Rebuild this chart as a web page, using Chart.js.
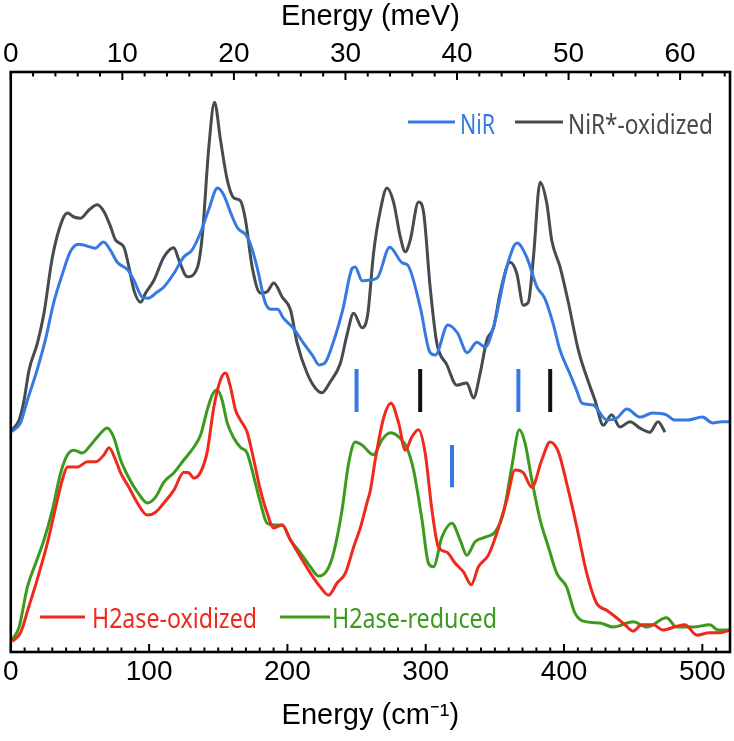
<!DOCTYPE html>
<html>
<head>
<meta charset="utf-8">
<script src="https://cdn.jsdelivr.net/npm/chart.js@4.4.1/dist/chart.umd.min.js"></script>
<style>
  html, body { margin: 0; padding: 0; background: #fff; }
  #wrap { width: 734px; height: 741px; }
</style>
</head>
<body>
<div id="wrap"><canvas id="spectraChart"></canvas></div>
<script>
// energy in cm-1, intensity in arbitrary units (spectra stacked with an offset)
const nirX = [1, 7, 12, 19, 25, 31, 37.5, 43, 49, 58, 61, 67, 72, 77, 84.5, 89, 95, 99, 106, 110.5,
  118, 125, 131, 137, 143, 149.5, 154, 159, 164, 170, 173, 178, 184, 188, 193, 197, 204, 211.5, 218, 223,
  227, 233, 240, 247, 249, 254, 258.5, 265, 274, 283, 287, 296, 303, 307, 316, 323, 330, 337, 343, 349,
  359, 366, 373, 380.5, 386, 392, 397, 404, 409, 413, 421, 431, 438, 445.5, 455, 464, 474, 480, 489.5, 500,
  507.5, 514, 520];
const nirY = [38.0, 39.5, 43.4, 48.6, 53.8, 60.2, 65.3, 69.0, 70.3, 69.8, 69.6, 70.7, 69.3, 67.2, 65.9, 64.1, 61.2, 61.0, 62.1, 62.9,
  65.3, 68.1, 69.3, 72.2, 76.2, 80.0, 78.8, 75.7, 73.1, 71.9, 70.5, 66.4, 60.2, 59.1, 59.1, 57.6, 55.9, 53.3, 51.2, 49.5,
  49.8, 53.3, 59.0, 66.2, 66.4, 64.0, 64.1, 64.5, 69.8, 67.1, 66.7, 59.5, 51.7, 51.2, 56.4, 55.0, 51.6, 53.4, 52.6, 56.0,
  66.7, 70.5, 68.1, 62.9, 61.0, 56.7, 52.1, 48.1, 45.2, 42.9, 42.6, 40.0, 40.3, 41.9, 40.5, 41.2, 40.9, 40.0, 40.0, 40.5,
  39.5, 39.7, 39.7];

const nirOxX = [1, 6, 9.6, 13.2, 19.3, 24, 30.1, 37.3, 41, 45.7, 50.5, 56.5, 62.6, 67.4, 72.2, 75.8, 81.8, 85.4, 89, 93.9,
  97.5, 103.5, 110.7, 117.9, 121.5, 127.6, 134.8, 138.4, 143.2, 147.3, 151.6, 156.5, 161.2, 166, 169.7, 174.5, 180.5, 185.3, 190.1, 196.2,
  202.2, 207, 214.2, 220.2, 225, 231, 238.3, 243.1, 247.9, 254, 258, 262.3, 267, 272, 276.7, 281.6, 285.2, 288.8, 294.8, 298.4,
  303.2, 308, 315.3, 322.5, 329.7, 334.5, 339.4, 344.2, 349, 353.8, 361, 365.8, 370.6, 374.2, 377.9, 382.7, 387.5, 391.1, 397.1, 403.1,
  410.3, 416.4, 422.4, 428.4, 434.4, 440.4, 447.7, 454.9, 462, 468, 473];
const nirOxY = [38.3, 40.0, 43.4, 48.6, 53.3, 58.4, 68.1, 74.5, 75.7, 75.0, 74.8, 76.2, 77.1, 75.9, 73.3, 71.0, 69.8, 66.4, 62.4, 60.3,
  61.9, 64.1, 68.1, 69.7, 67.6, 64.7, 66.2, 71.6, 87.1, 94.8, 88.3, 81.4, 78.3, 77.8, 74.5, 66.4, 61.9, 62.1, 63.6, 61.2,
  59.0, 53.3, 48.1, 45.5, 44.7, 46.6, 49.8, 54.7, 58.4, 55.9, 58.1, 68.8, 75.9, 80.0, 77.6, 71.6, 69.0, 71.0, 77.6, 75.9,
  62.9, 53.3, 49.5, 46.0, 46.4, 43.8, 48.1, 53.8, 55.9, 61.9, 67.2, 65.3, 59.8, 60.3, 68.1, 81.0, 77.4, 71.0, 66.4, 60.3,
  52.1, 47.4, 43.4, 39.1, 40.9, 38.8, 39.7, 38.6, 37.9, 39.7, 37.9];

const h2oxX = [1, 7, 13, 19, 26.5, 32.5, 37.3, 41, 48.2, 55.4, 61.4, 67.4, 71, 75.8, 79.4, 85.4, 91.5, 98.7, 104.7, 110.7,
  117.9, 125.1, 128.7, 132.3, 137.2, 142, 146.8, 151.6, 155.2, 158.8, 162.5, 166, 170.9, 175.7, 180.5, 185.3, 190.1, 196.2, 202.2, 209.4,
  216.6, 223.8, 229.8, 235.9, 241.9, 247.9, 252.7, 257.5, 260, 263.5, 269.5, 274.9, 280.4, 285.2, 290, 294.8, 299.6, 304.5, 309.2, 315.3,
  321.3, 327.3, 332.9, 338.1, 345.3, 351.4, 358.6, 364.6, 370.6, 376.7, 383.9, 389.9, 395.9, 401.9, 409.2, 416.4, 423.6, 430.8, 438, 444,
  450, 456, 464.5, 471.5, 481, 487.4, 496, 505, 512.6, 520];
const h2oxY = [1.8, 3.3, 7.8, 12.4, 18.8, 25.0, 29.7, 31.9, 31.9, 32.8, 32.8, 34.0, 35.2, 33.1, 30.9, 28.4, 25.7, 23.6, 24.1, 25.7,
  27.9, 31.0, 30.9, 30.0, 31.0, 34.5, 42.2, 46.9, 48.1, 45.7, 41.7, 40.0, 37.9, 33.1, 27.9, 24.0, 21.4, 21.9, 19.3, 16.4,
  13.6, 11.2, 9.8, 11.9, 13.6, 18.1, 21.4, 25.7, 27.9, 33.1, 40.3, 42.9, 39.5, 34.8, 37.1, 38.3, 34.3, 24.5, 18.1, 17.2,
  15.3, 13.8, 11.6, 14.7, 16.7, 20.5, 26.2, 31.4, 30.9, 28.4, 33.1, 36.2, 34.5, 29.1, 21.6, 13.6, 8.4, 7.2, 5.9, 4.7,
  3.6, 4.7, 4.7, 3.8, 4.4, 4.7, 2.9, 3.3, 3.3, 3.8];

const h2redX = [1, 6, 12, 18, 24, 30.1, 36.1, 41, 45.7, 51.8, 57.8, 63.8, 69.8, 74.6, 79.4, 85.4, 91.5, 98.7, 104.7, 110.7,
  117.9, 125.1, 132.3, 137.2, 142, 145.6, 149.3, 152.8, 156.5, 161.2, 166, 170.9, 175.7, 180.5, 185.3, 191.3, 196.2, 202.2, 209.4, 216.6,
  222.6, 228.7, 233.4, 239.5, 244.3, 249.1, 253.9, 262.3, 268.4, 274.4, 280.4, 286.4, 291.2, 297.3, 302, 305.6, 311.7, 318.9, 324.9, 329.7,
  335.7, 343, 350.2, 356.2, 362.2, 367.7, 371.8, 376.7, 382.7, 388.7, 394.7, 401.9, 407.9, 416.4, 426, 435.6, 450, 459.7, 474.1, 481.4,
  493.4, 505.4, 511.4, 520];
const h2redY = [2.1, 4.3, 11.2, 15.3, 19.3, 24.5, 30.9, 34.0, 34.8, 34.3, 35.7, 37.4, 38.6, 36.9, 33.1, 30.0, 27.6, 25.7, 26.7, 29.3,
  30.9, 33.1, 35.3, 37.4, 41.7, 44.3, 45.2, 43.4, 39.5, 36.9, 35.3, 34.3, 30.2, 25.7, 22.2, 21.9, 21.9, 19.3, 17.1, 14.7,
  13.1, 14.1, 17.1, 24.5, 32.6, 36.2, 35.7, 34.0, 36.6, 37.8, 37.1, 35.2, 31.4, 22.8, 15.3, 14.7, 19.8, 22.2, 19.3, 16.7,
  19.0, 19.8, 20.7, 24.0, 31.9, 38.3, 36.0, 29.7, 22.8, 18.1, 13.6, 11.2, 6.7, 5.2, 5.0, 4.3, 5.2, 4.3, 5.9, 4.3,
  4.3, 4.7, 3.8, 3.8];

// short vertical markers (position in cm-1, top and bottom in a.u.)
const markerX = [250, 296, 367, 390, 319];
const markerTop = [48.8, 48.8, 48.8, 48.8, 35.7];
const markerBottom = [41.4, 41.4, 41.4, 41.4, 28.4];
const markerKind = ['NiR', 'NiR*-oxidized', 'NiR', 'NiR*-oxidized', 'NiR'];

const cmMax = 520;
const cmPerMeV = 8.0655;
const cmTicks = { major: 100, minor: 10 };
const meVTicks = { major: 10, minor: 2 };

const colors = {
  'NiR': '#3679e3',
  'NiR*-oxidized': '#464b4f',
  'H2ase-oxidized': '#ef2a1d',
  'H2ase-reduced': '#3c9a1d'
};
const markerColors = { 'NiR': '#3679e3', 'NiR*-oxidized': '#111111' };

const toPoints = (xs, ys) => xs.map((x, i) => ({ x: x, y: ys[i] }));

function spectrum(label, xs, ys) {
  return {
    label: label,
    data: toPoints(xs, ys),
    borderColor: colors[label],
    backgroundColor: colors[label],
    borderWidth: 3,
    pointRadius: 0,
    fill: false,
    cubicInterpolationMode: 'monotone',
    borderJoinStyle: 'round'
  };
}

const markerSets = markerX.map((x, i) => ({
  label: 'marker',
  data: [{ x: x, y: markerTop[i] }, { x: x, y: markerBottom[i] }],
  borderColor: markerColors[markerKind[i]],
  borderWidth: 4,
  pointRadius: 0,
  tension: 0,
  borderCapStyle: 'butt'
}));

// legend boxes placed as in the figure
const legendItems = [
  { label: 'NiR', x1: 408, x2: 455, ly: 122, tx: 460, tw: 35, base: 134 },
  { label: 'NiR*-oxidized', x1: 515, x2: 563, ly: 122, tx: 568, tw: 145, base: 134 },
  { label: 'H2ase-oxidized', x1: 40, x2: 85, ly: 617, tx: 92, tw: 165, base: 628 },
  { label: 'H2ase-reduced', x1: 280, x2: 330, ly: 617, tx: 332, tw: 165, base: 628 }
];

const framePlugin = {
  id: 'frame',
  afterDraw(chart) {
    const { ctx, chartArea: a, scales } = chart;
    ctx.save();
    ctx.strokeStyle = '#000';
    ctx.lineWidth = 2;
    ctx.beginPath();
    for (let v = 0; v <= cmMax; v += cmTicks.minor) {
      const px = scales.x.getPixelForValue(v);
      const len = v % cmTicks.major === 0 ? 8 : 4.5;
      ctx.moveTo(px, a.bottom);
      ctx.lineTo(px, a.bottom - len);
    }
    for (let m = 0; m <= cmMax / cmPerMeV; m += meVTicks.minor) {
      const px = scales.x2.getPixelForValue(m);
      const len = m % meVTicks.major === 0 ? 8 : 4.5;
      ctx.moveTo(px, a.top);
      ctx.lineTo(px, a.top + len);
    }
    ctx.stroke();
    ctx.lineWidth = 2.6;
    ctx.strokeRect(a.left, a.top, a.right - a.left, a.bottom - a.top);

    ctx.font = '28px "Noto Sans"';
    ctx.textBaseline = 'alphabetic';
    legendItems.forEach(it => {
      const c = colors[it.label];
      ctx.strokeStyle = c;
      ctx.lineWidth = 3;
      ctx.beginPath();
      ctx.moveTo(it.x1, it.ly);
      ctx.lineTo(it.x2, it.ly);
      ctx.stroke();
      const w = ctx.measureText(it.label).width;
      ctx.save();
      ctx.translate(it.tx, it.base);
      ctx.scale(it.tw / w, 1);
      ctx.fillStyle = c;
      ctx.fillText(it.label, 0, 0);
      ctx.restore();
    });
    ctx.restore();
  }
};

const axisFont = { family: '"Liberation Sans", Arial, sans-serif', size: 28 };
const titleFont = { family: '"Liberation Sans", Arial, sans-serif', size: 29 };

new Chart(document.getElementById('spectraChart'), {
  type: 'line',
  data: {
    datasets: [
      spectrum('NiR', nirX, nirY),
      spectrum('NiR*-oxidized', nirOxX, nirOxY),
      spectrum('H2ase-oxidized', h2oxX, h2oxY),
      spectrum('H2ase-reduced', h2redX, h2redY)
    ].concat(markerSets)
  },
  options: {
    responsive: true,
    maintainAspectRatio: false,
    animation: false,
    layout: { padding: { left: 10, right: 4, top: 0, bottom: 0 } },
    plugins: {
      legend: { display: false },
      tooltip: { enabled: false }
    },
    scales: {
      x: {
        type: 'linear',
        position: 'bottom',
        min: 0,
        max: cmMax,
        afterFit(scale) { scale.height = 89; },
        grid: { display: false, drawTicks: false },
        border: { display: false },
        ticks: {
          stepSize: cmTicks.major,
          includeBounds: false,
          autoSkip: false,
          maxRotation: 0,
          padding: 3,
          color: '#000',
          font: axisFont
        },
        title: {
          display: true,
          text: 'Energy (cm\u207B\u00B9)',
          color: '#000',
          font: titleFont,
          padding: { top: 0, bottom: 8 }
        }
      },
      x2: {
        type: 'linear',
        position: 'top',
        min: 0,
        max: cmMax / cmPerMeV,
        afterFit(scale) { scale.height = 72; },
        grid: { display: false, drawTicks: false },
        border: { display: false },
        ticks: {
          stepSize: meVTicks.major,
          includeBounds: false,
          autoSkip: false,
          maxRotation: 0,
          padding: 1,
          color: '#000',
          font: axisFont
        },
        title: {
          display: true,
          text: 'Energy (meV)',
          color: '#000',
          font: titleFont,
          padding: { top: 0, bottom: 0 }
        }
      },
      y: {
        display: false,
        min: 0,
        max: 100
      }
    }
  },
  plugins: [framePlugin]
});
</script>
</body>
</html>
